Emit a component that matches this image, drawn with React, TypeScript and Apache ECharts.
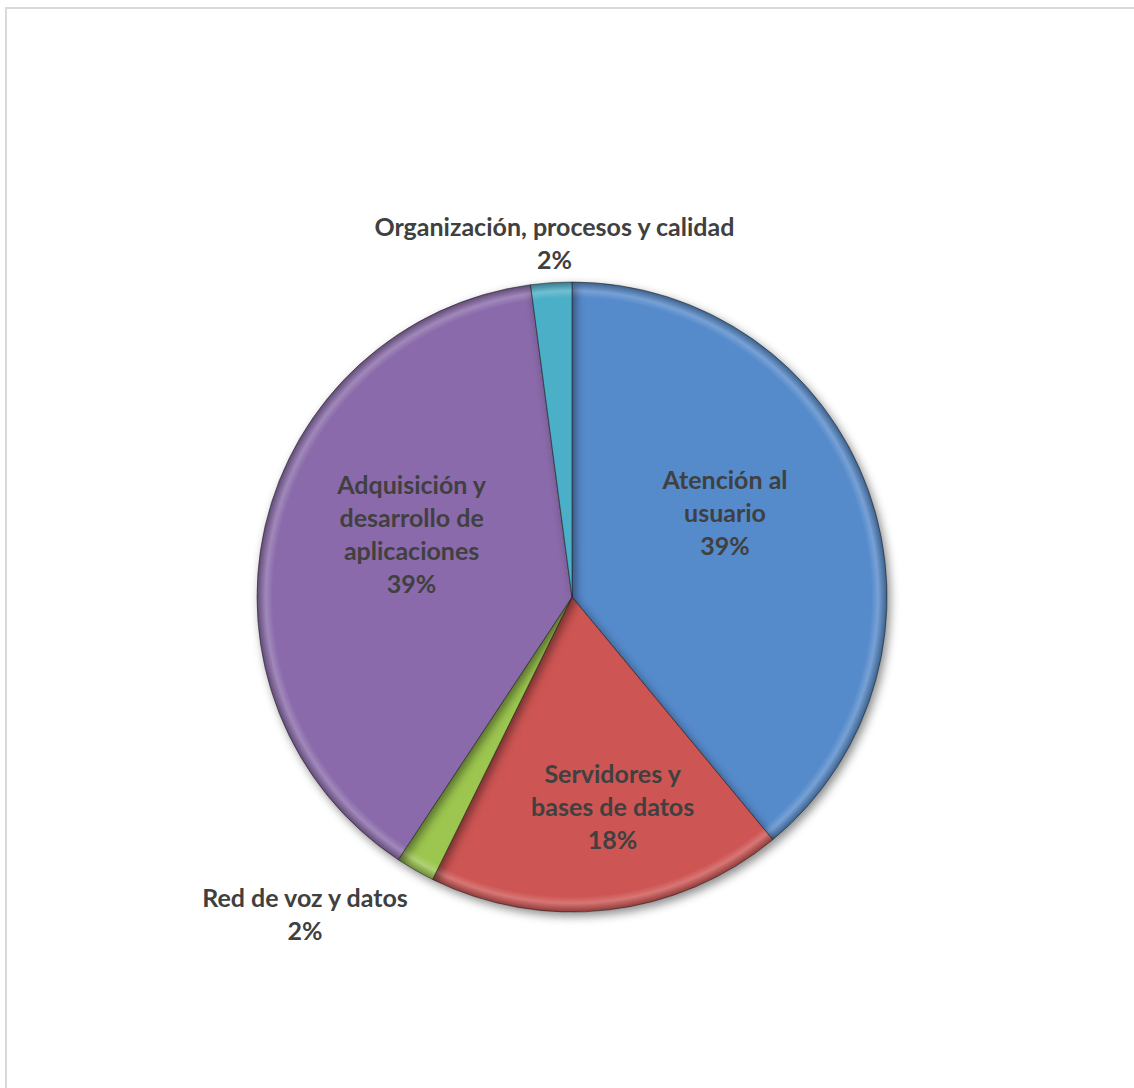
import React, { useEffect, useRef } from "react";
import * as echarts from "echarts";

const categories = [
  "Atención al\nusuario",
  "Servidores y\nbases de datos",
  "Red de voz y datos",
  "Adquisición y\ndesarrollo de\naplicaciones",
  "Organización, procesos y calidad",
];
const values = [39.0, 18.3, 2.0, 38.6, 2.1];
const colors = ["#558ACB", "#CD5452", "#9CC650", "#8A6AAA", "#4BAFC8"];
const labelOffsets: [number, number][] = [
  [2, -31],
  [22, 50],
  [-187, 177],
  [-4, -28],
  [-7, -194],
];

const CX = 572;
const CY = 597;
const R = 315;

function shade(hex: string, f: number): string {
  const n = parseInt(hex.slice(1), 16);
  let r = (n >> 16) & 255, g = (n >> 8) & 255, b = n & 255;
  const adj = (c: number) =>
    f >= 0 ? Math.round(c + (255 - c) * f) : Math.round(c * (1 + f));
  r = adj(r); g = adj(g); b = adj(b);
  return "#" + ((1 << 24) | (r << 16) | (g << 8) | b).toString(16).slice(1);
}

export default function App() {
  const ref = useRef<HTMLDivElement>(null);
  useEffect(() => {
    document.body.style.margin = "0";
    const chart = echarts.init(ref.current!, null, { renderer: "svg" });
    const data = categories.map((name, i) => ({
      name,
      value: values[i],
      itemStyle: {
        color: new echarts.graphic.RadialGradient(
          CX,
          CY,
          R,
          [
            { offset: 0, color: colors[i] },
            { offset: 0.95, color: colors[i] },
            { offset: 0.972, color: shade(colors[i], 0.2) },
            { offset: 1, color: shade(colors[i], -0.3) },
          ],
          true
        ),
      },
      label: { offset: labelOffsets[i] },
    }));
    chart.setOption({
      animation: false,
      backgroundColor: "#ffffff",
      graphic: [
        {
          type: "rect",
          shape: { x: 6, y: 8, width: 1300, height: 1300 },
          style: { fill: "none", stroke: "#d9d9d9", lineWidth: 2 },
          silent: true,
        },
      ],
      series: [
        {
          type: "pie",
          center: [CX, CY],
          radius: [0, R],
          startAngle: 90,
          clockwise: true,
          avoidLabelOverlap: false,
          data,
          itemStyle: {
            borderColor: "rgba(30,30,30,0.55)",
            borderWidth: 1,
            shadowColor: "rgba(0,0,0,0.45)",
            shadowBlur: 10,
            shadowOffsetX: 3,
            shadowOffsetY: 4,
          },
          label: {
            show: true,
            position: "inside",
            formatter: (p: any) => `${p.name}\n${Math.round(p.percent)}%`,
            fontFamily: "Lato",
            fontWeight: "bold",
            fontSize: 25,
            lineHeight: 33,
            color: "#404040",
            align: "center",
          },
          labelLine: { show: false },
          emphasis: { disabled: true },
        },
      ],
    });
    return () => chart.dispose();
  }, []);
  return (
    <div
      ref={ref}
      style={{ position: "absolute", left: 0, top: 0, width: 1134, height: 1088 }}
    />
  );
}
